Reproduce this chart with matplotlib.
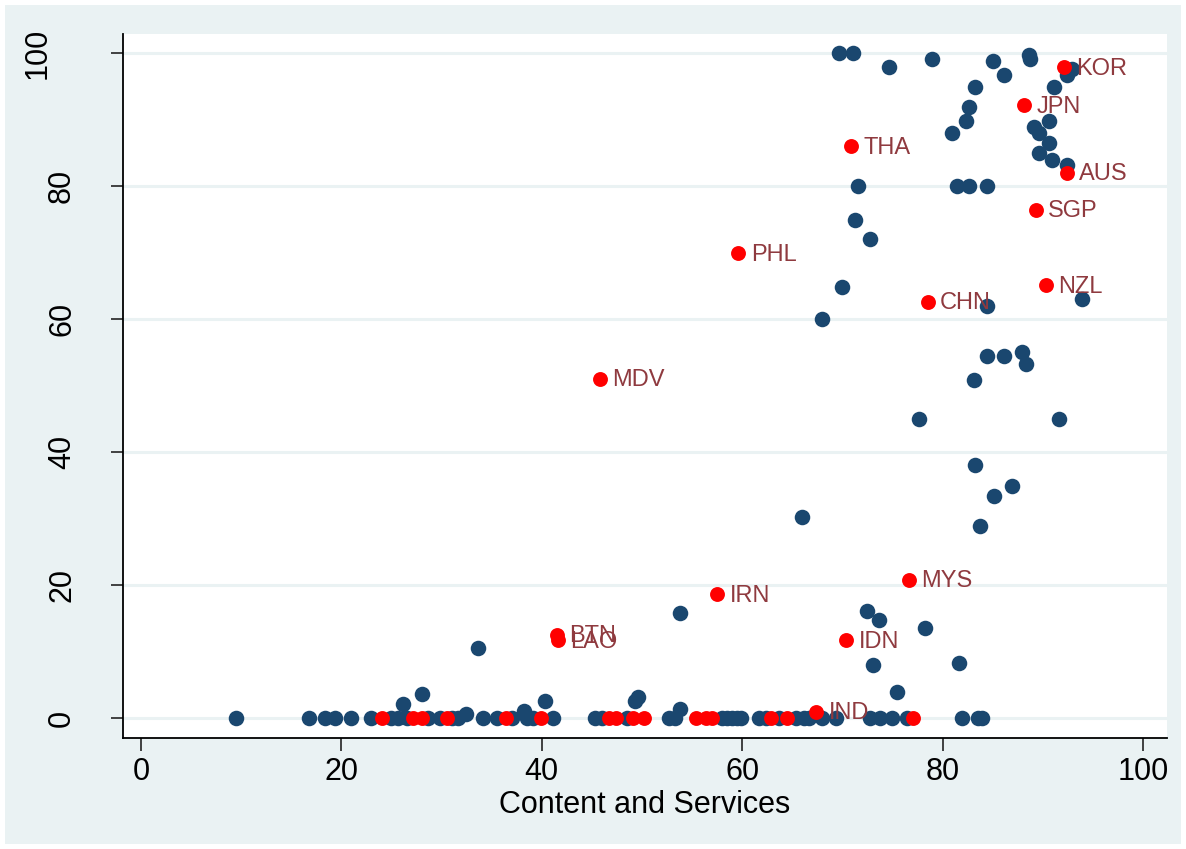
import matplotlib
matplotlib.use("Agg")
import matplotlib.pyplot as plt
import matplotlib.transforms as mtransforms
from matplotlib.patches import Rectangle

plt.rcParams['font.family'] = ['Liberation Sans', 'DejaVu Sans']

# all economies (blue)
blue_x = [69.7, 71.1, 74.7, 78.9, 83.2, 85.0, 86.1, 88.6, 88.7, 91.1, 92.4, 92.9,
          82.6, 82.3, 80.9, 90.6, 89.1, 89.6, 90.6, 89.6, 90.9, 92.4,
          71.6, 81.4, 82.6, 84.4, 71.3, 72.8, 70.0, 84.4, 93.9, 68.0,
          84.4, 86.1, 87.9, 88.3, 83.1, 77.6, 91.6, 83.2, 86.9, 85.1, 66.0, 83.7,
          72.5, 73.7, 78.2, 73.1, 81.6, 75.5, 53.8, 33.6, 49.6, 49.3, 40.3,
          28.0, 26.1, 32.4, 38.2, 53.8,
          9.5, 16.8, 18.4, 19.4, 21.0, 23.0, 24.9, 25.6, 26.5, 28.6, 29.8, 31.0,
          31.6, 34.1, 35.5, 37.0, 38.5, 39.1, 41.1, 45.3, 46.0, 48.5, 52.7, 53.3,
          58.0, 58.5, 59.0, 59.5, 59.9, 61.7, 62.4, 63.7, 65.4, 66.2, 66.7, 68.0,
          69.4, 72.8, 73.8, 75.0, 76.4, 81.9, 83.5, 83.9]
blue_y = [100, 100, 97.9, 99.1, 94.9, 98.8, 96.8, 99.7, 99.2, 94.9, 96.8, 97.7,
          91.9, 89.8, 88.0, 89.8, 88.9, 88.0, 86.5, 85.0, 83.9, 83.2,
          80.0, 80.0, 80.0, 80.0, 74.9, 72.0, 64.8, 62.0, 63.0, 60.0,
          54.4, 54.4, 55.0, 53.2, 50.8, 45.0, 45.0, 38.0, 34.9, 33.4, 30.2, 28.9,
          16.1, 14.7, 13.5, 8.0, 8.3, 3.9, 15.8, 10.5, 3.2, 2.5, 2.6,
          3.6, 2.1, 0.6, 1.1, 1.3,
          0, 0, 0, 0, 0, 0, 0, 0, 0, 0, 0, 0,
          0, 0, 0, 0, 0, 0, 0, 0, 0, 0, 0, 0,
          0, 0, 0, 0, 0, 0, 0, 0, 0, 0, 0, 0,
          0, 0, 0, 0, 0, 0, 0, 0]

# Asia-Pacific economies (red)
red_names = ['KOR', 'JPN', 'THA', 'AUS', 'SGP', 'PHL', 'NZL', 'CHN', 'MDV',
             'MYS', 'IRN', 'BTN', 'LAO', 'IDN', 'IND',
             '', '', '', '', '', '', '', '', '', '', '', '', '', '', '', '']
red_x = [92.1, 88.1, 70.9, 92.4, 89.3, 59.6, 90.3, 78.5, 45.8,
         76.6, 57.5, 41.5, 41.6, 70.4, 67.4,
         24.1, 27.1, 28.0, 30.5, 36.4, 39.9, 46.7, 47.4, 49.1, 50.2,
         55.4, 56.4, 57.0, 62.9, 64.5, 77.0]
red_y = [97.9, 92.2, 86.0, 82.0, 76.5, 69.9, 65.1, 62.6, 51.0,
         20.8, 18.6, 12.5, 11.7, 11.7, 0.9,
         0, 0, 0, 0, 0, 0, 0, 0, 0, 0, 0, 0, 0, 0, 0, 0]

yticks = [0, 20, 40, 60, 80, 100]
xticks = [0, 20, 40, 60, 80, 100]

bg = '#eaf2f3'
fig = plt.figure(figsize=(11.86, 8.49), dpi=100, facecolor='white')
fig.patches.append(Rectangle((5 / 1186, 5 / 849), 1176 / 1186, 839 / 849,
                             transform=fig.transFigure, facecolor=bg,
                             edgecolor='none', zorder=-10))
ax = fig.add_axes([123 / 1186, 111 / 849, 1044 / 1186, 704 / 849])
ax.set_facecolor('white')

ax.scatter(blue_x, blue_y, s=125, color='#1a476f', linewidths=0, zorder=3)
ax.scatter(red_x, red_y, s=115, color='#ff0000', linewidths=0, zorder=4)
for n, x, y in zip(red_names, red_x, red_y):
    if n:
        ax.annotate(n, (x, y), xytext=(9, -1), textcoords='offset points',
                    va='center', ha='left', fontsize=17, color='#8f3a3f', zorder=5)

ax.set_xlim(-1.8, 102.4)
ax.set_ylim(-3.0, 102.9)
ax.set_xticks(xticks)
ax.set_yticks(yticks)
ax.set_yticklabels([])
for s in ['top', 'right']:
    ax.spines[s].set_visible(False)
for s in ['left', 'bottom']:
    ax.spines[s].set_linewidth(1.3)
    ax.spines[s].set_color('black')
ax.tick_params(axis='both', direction='out', length=9, width=1.3, color='#333333')
ax.tick_params(axis='x', labelsize=22, pad=5)
for y in yticks:
    ax.axhline(y, color=bg, linewidth=2.2, zorder=1)

# rotated y tick labels, Stata style
for y in yticks:
    dx = -85 if y == 100 else -61
    tr = mtransforms.offset_copy(ax.get_yaxis_transform(), fig=fig, x=dx, y=0, units='dots')
    ax.text(0, y, str(y), transform=tr, rotation=90, ha='center', va='center',
            fontsize=22, color='black')

ax.set_xlabel('Content and Services', fontsize=22, labelpad=2)

fig.savefig('out.png', dpi=100, facecolor=fig.get_facecolor())
